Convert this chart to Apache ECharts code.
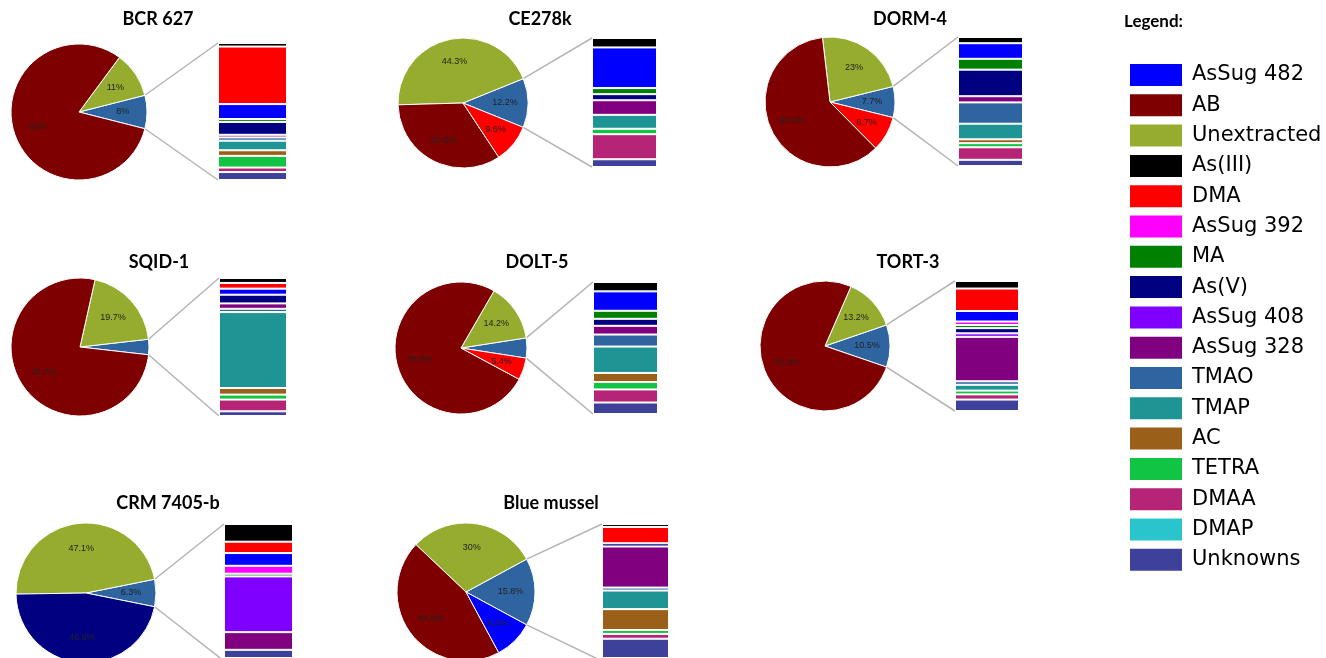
<!DOCTYPE html>
<html>
<head>
<meta charset="utf-8">
<script src="https://cdn.jsdelivr.net/npm/echarts@6/dist/echarts.min.js"></script>
<style>
  html, body { margin: 0; padding: 0; background: #fff; }
  #chart { width: 1326px; height: 658px; }
</style>
</head>
<body>
<div id="chart"></div>
<script>
// Reference materials shown as pie-of-bar charts: the pie gives the main
// arsenic fractions (%), the bar breaks down the remaining "Other" slice.
const samples = ['BCR 627', 'CE278k', 'DORM-4', 'SQID-1', 'DOLT-5', 'TORT-3', 'CRM 7405-b', 'Blue mussel'];

// Pie slices, listed counter-clockwise starting with the slice that is broken out
const pieNames = [
  ['Other', 'Unextracted', 'AB'],
  ['Other', 'Unextracted', 'AB', 'DMA'],
  ['Other', 'Unextracted', 'AB', 'DMA'],
  ['Other', 'Unextracted', 'AB'],
  ['Other', 'Unextracted', 'AB', 'DMA'],
  ['Other', 'Unextracted', 'AB'],
  ['Other', 'Unextracted', 'As(V)'],
  ['Other', 'Unextracted', 'AB', 'AsSug 482']
];
const pieValues = [
  [8, 11, 82],
  [12.2, 44.3, 33.8, 9.6],
  [7.7, 23, 60.6, 8.7],
  [3.6, 19.7, 76.7],
  [4.9, 14.2, 75.5, 5.4],
  [10.5, 13.2, 76.3],
  [6.3, 47.1, 46.6],
  [15.8, 30, 44.9, 9.2]
];

// Bar breakdown of the "Other" slice (% of that slice), stacked top to bottom
const barComponents = ['As(III)', 'DMA', 'AsSug 482', 'AsSug 392', 'MA', 'As(V)', 'AsSug 408', 'AsSug 328',
  'TMAO', 'TMAP', 'AC', 'TETRA', 'DMAA', 'DMAP', 'Unknowns'];
const barBCR627    = [2.6, 42.0, 10.9, null, 2.1, 9.4, null, 1.9, 2.4, 7.0, 4.1, 8.5, 3.3, null, 5.8];
const barCE278k    = [7.3, null, 31.5, null, 4.7, 4.7, null, 11.3, null, 10.8, null, 4.2, 19.4, null, 6.0];
const barDORM4     = [4.8, null, 12.1, null, 8.4, 20.6, null, 4.8, 16.5, 12.1, 3.0, 3.2, 9.7, null, 4.8];
const barSQID1     = [3.6, 4.1, 4.4, null, null, 6.3, null, 3.9, 2.4, 55.0, 4.8, 3.6, 8.5, null, 3.4];
const barDOLT5     = [7.1, null, 14.7, null, 6.1, 5.3, null, 6.6, 9.1, 20.0, 6.9, 5.6, 9.9, null, 8.7];
const barTORT3     = [5.8, 17.3, 8.1, 2.7, 2.4, 4.0, 2.7, 34.2, 2.7, 4.5, null, 2.9, 4.0, null, 8.8];
const barCRM7405b  = [13.2, 8.5, 9.5, 5.9, 2.0, null, 41.6, 13.2, null, null, null, null, null, null, 6.1];
const barBlueMussel = [2.2, 12.2, null, null, null, 2.4, null, 30.7, 2.2, 13.9, 15.6, 2.9, 3.6, null, 14.4];
const barValues = [barBCR627, barCE278k, barDORM4, barSQID1, barDOLT5, barTORT3, barCRM7405b, barBlueMussel];

const legendOrder = ['AsSug 482', 'AB', 'Unextracted', 'As(III)', 'DMA', 'AsSug 392', 'MA', 'As(V)',
  'AsSug 408', 'AsSug 328', 'TMAO', 'TMAP', 'AC', 'TETRA', 'DMAA', 'DMAP', 'Unknowns'];

const colors = {
  'AsSug 482': '#0000FF', 'AB': '#7F0000', 'Unextracted': '#96AC2E', 'As(III)': '#000000',
  'DMA': '#FF0000', 'AsSug 392': '#FF00FF', 'MA': '#008000', 'As(V)': '#000080',
  'AsSug 408': '#8000FF', 'AsSug 328': '#800080', 'TMAO': '#2E64A0', 'TMAP': '#1E9594',
  'AC': '#9A601A', 'TETRA': '#11C443', 'DMAA': '#B52476', 'DMAP': '#29C4CC', 'Unknowns': '#3D4199',
  'Other': '#2E64A0'
};

// Panel geometry (pixels): pie centre/radius, bar box, title anchor
const layout = [
  { cx: 79,  cy: 112, r: 68, bx: 218, by: 43,  bw: 69, bh: 137, tx: 158, ty: 19 },
  { cx: 463, cy: 103, r: 65, bx: 592, by: 38,  bw: 65, bh: 129, tx: 540, ty: 19 },
  { cx: 830, cy: 102, r: 65, bx: 958, by: 37,  bw: 65, bh: 129, tx: 910, ty: 19 },
  { cx: 80,  cy: 347, r: 69, bx: 219, by: 278, bw: 68, bh: 138, tx: 159, ty: 262 },
  { cx: 461, cy: 348, r: 66, bx: 593, by: 282, bw: 65, bh: 132, tx: 537, ty: 262 },
  { cx: 825, cy: 346, r: 65, bx: 955, by: 281, bw: 64, bh: 130, tx: 908, ty: 262 },
  { cx: 86,  cy: 593, r: 70, bx: 224, by: 524, bw: 69, bh: 137, tx: 168, ty: 503 },
  { cx: 466, cy: 592, r: 69, bx: 602, by: 524, bw: 67, bh: 137, tx: 551, ty: 503 }
];

const grid = [], xAxis = [], yAxis = [], series = [], graphic = [];

samples.forEach(function (sample, i) {
  const L = layout[i];
  const vals = pieValues[i];
  const total = vals.reduce(function (a, b) { return a + b; }, 0);
  const halfDeg = vals[0] / total * 180;

  // pie slices
  series.push({
    type: 'pie', center: [L.cx, L.cy], radius: [0, L.r],
    startAngle: -halfDeg, clockwise: false, silent: true,
    emphasis: { disabled: true },
    itemStyle: { borderColor: '#fff', borderWidth: 1 },
    label: { show: false }, labelLine: { show: false },
    data: pieNames[i].map(function (n, k) {
      return { name: n, value: vals[k], itemStyle: { color: colors[n] } };
    })
  });
  // percentage labels, set a little further out than mid-radius
  series.push({
    type: 'pie', center: [L.cx, L.cy], radius: [L.r * 0.2, L.r],
    startAngle: -halfDeg, clockwise: false, silent: true,
    emphasis: { disabled: true },
    itemStyle: { color: 'rgba(0,0,0,0)' },
    labelLine: { show: false },
    label: {
      show: true, position: 'inside', color: '#222', fontSize: 9,
      fontFamily: 'Liberation Sans',
      formatter: function (p) { return p.value + '%'; }
    },
    data: pieNames[i].map(function (n, k) {
      return { name: n, value: vals[k], label: { show: vals[k] >= 5 } };
    })
  });

  // stacked breakdown bar
  const bars = barValues[i];
  const barSum = bars.reduce(function (a, b) { return a + (b || 0); }, 0);
  grid.push({ left: L.bx, top: L.by, width: L.bw, height: L.bh });
  xAxis.push({ gridIndex: i, type: 'category', data: [sample], show: false });
  yAxis.push({ gridIndex: i, type: 'value', min: 0, max: barSum, inverse: true, show: false });
  barComponents.forEach(function (c, j) {
    series.push({
      type: 'bar', name: c, xAxisIndex: i, yAxisIndex: i, stack: 'breakdown' + i,
      barWidth: '100%', silent: true,
      itemStyle: { color: colors[c], borderColor: '#fff', borderWidth: 1 },
      data: [bars[j] == null ? '-' : bars[j]]
    });
  });

  // connector lines from the broken-out slice to the bar
  const a = halfDeg * Math.PI / 180;
  const ex = L.cx + L.r * Math.cos(a);
  const dy = L.r * Math.sin(a);
  const lineStyle = { stroke: '#B4B4B4', lineWidth: 1.5 };
  graphic.push({ type: 'line', silent: true, z: 1, shape: { x1: ex, y1: L.cy - dy, x2: L.bx, y2: L.by }, style: lineStyle });
  graphic.push({ type: 'line', silent: true, z: 1, shape: { x1: ex, y1: L.cy + dy, x2: L.bx, y2: L.by + L.bh }, style: lineStyle });

  // panel title
  graphic.push({
    type: 'text', x: L.tx, y: L.ty, silent: true,
    style: { text: sample, font: 'bold 18px Lato', fill: '#000', align: 'center', verticalAlign: 'middle' }
  });
});

graphic.push({
  type: 'text', x: 1124, y: 22, silent: true,
  style: { text: 'Legend:', font: 'bold 17px Lato', fill: '#000', align: 'left', verticalAlign: 'middle' }
});

const chart = echarts.init(document.getElementById('chart'), null, { renderer: 'canvas' });
chart.setOption({
  animation: false,
  backgroundColor: '#fff',
  legend: {
    orient: 'vertical', left: 1128, top: 62, padding: 0,
    itemWidth: 54, itemHeight: 24, itemGap: 4.3,
    icon: 'rect', selectedMode: false,
    textStyle: { fontFamily: 'DejaVu Sans', fontSize: 21, lineHeight: 24, color: '#000', padding: [0, 0, 0, 4] },
    data: legendOrder.map(function (n) { return { name: n, itemStyle: { color: colors[n] } }; })
  },
  grid: grid, xAxis: xAxis, yAxis: yAxis,
  series: series,
  graphic: graphic
});
</script>
</body>
</html>
